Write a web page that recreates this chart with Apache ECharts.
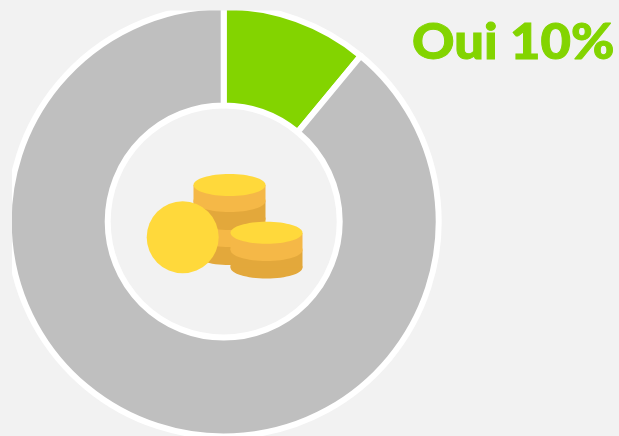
<!DOCTYPE html>
<html><head><meta charset="utf-8">
<style>html,body{margin:0;padding:0;background:#f2f2f2}#c{width:619px;height:436px}</style>
<script src="https://cdn.jsdelivr.net/npm/echarts@6/dist/echarts.min.js"></script>
</head><body><div id="c"></div>
<script>
const categories = ['Oui', 'Non'];
const values = [11, 89];
const colors = ['#83d400', '#bfbfbf'];
const labelText = 'Oui 10%';
const BG = '#f2f2f2', Y = '#ffd93b', L = '#f5b847', D = '#e3a83b';

function layer(cx, top, bottom, rx, ry, fill) {
  return [
    {type:'ellipse', shape:{cx, cy:bottom, rx, ry}, style:{fill}, z:10},
    {type:'rect', shape:{x:cx-rx, y:top, width:rx*2, height:bottom-top}, style:{fill}, z:10}
  ];
}
const coins = [
  ...layer(229.5, 236, 254, 36, 11, D),
  ...layer(229.5, 219, 236, 36, 11, L),
  ...layer(229.5, 201, 219, 36, 11, D),
  ...layer(229.5, 185, 201, 36, 11, L),
  {type:'ellipse', shape:{cx:229.5, cy:185, rx:36, ry:11}, style:{fill:Y}, z:10},
  {type:'circle', shape:{cx:182.7, cy:237.3, r:36}, style:{fill:Y}, z:11},
  ...layer(266.5, 250, 267.5, 36, 11, D).map(e=>({...e, z:12})),
  ...layer(266.5, 233, 250, 36, 11, L).map(e=>({...e, z:12})),
  {type:'ellipse', shape:{cx:266.5, cy:232.7, rx:36, ry:11}, style:{fill:Y}, z:12}
];

const chart = echarts.init(document.getElementById('c'), null, {renderer:'canvas'});
chart.setOption({
  animation:false,
  backgroundColor:BG,
  series:[{
    type:'pie', center:[223.7,221.5], radius:[116,215], startAngle:90, clockwise:true,
    silent:true, label:{show:false}, labelLine:{show:false},
    itemStyle:{borderColor:'#ffffff', borderWidth:6},
    data:categories.map((name,i)=>({name, value:values[i], itemStyle:{color:colors[i]}}))
  }],
  graphic:[
    {type:'rect', shape:{x:0,y:0,width:619,height:10.5}, style:{fill:BG}, z:5},
    {type:'rect', shape:{x:0,y:0,width:12,height:436}, style:{fill:BG}, z:5},
    ...coins,
    {type:'text', x:412, y:18, scaleX:1.05, style:{text:labelText, fill:colors[0], stroke:colors[0], lineWidth:1, font:'900 50px Lato'}, z:20}
  ]
});
</script></body></html>
